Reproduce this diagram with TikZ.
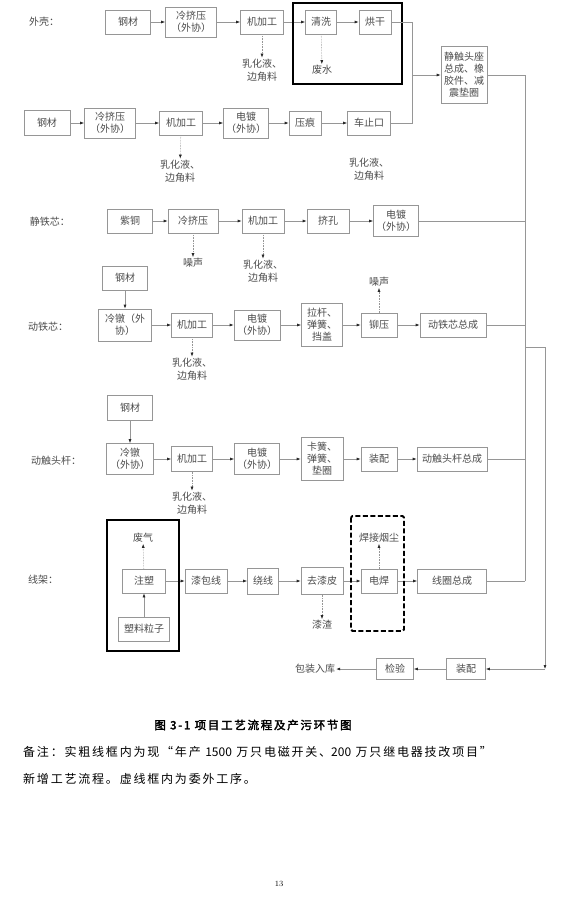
\documentclass[tikz,border=0pt]{standalone}
\usepackage{fontspec}
\newfontfamily\cjk{Noto Sans CJK SC}[AutoFakeBold=2.5]
\newfontfamily\cjknote{Noto Sans CJK SC}[LetterSpace=15,AutoFakeBold=2.5]
\definecolor{linegray}{RGB}{150,150,150}
\definecolor{textgray}{RGB}{75,75,75}
\usetikzlibrary{arrows.meta}

\begin{document}
\begin{tikzpicture}[x=1pt,y=-1pt,>={Latex[length=4pt,width=3pt,color=black!85]},
  box/.style={draw=linegray,line width=0.6pt,text=textgray,font=\cjk\fontsize{10}{12}\selectfont,align=center,inner sep=1pt,minimum height=24pt},
  note/.style={text=textgray,font=\cjk\fontsize{10}{13}\selectfont,align=center,inner sep=1pt},
  flow/.style={draw=linegray,line width=0.6pt},
  waste/.style={flow,densely dotted,->},
  newbox/.style={line width=1.8pt},
  outbox/.style={line width=1.8pt,dash pattern=on 5pt off 2.5pt}]
  \useasboundingbox (0,0) rectangle (572,906);
  %% 外壳
  \node[note] (lbA) at (44,22) {外壳：};
  \node[box,minimum width=45pt] (a1) at (128,22) {钢材};
  \node[box,minimum width=51pt,minimum height=30pt] (a2) at (191,22) {冷挤压\\（外协）};
  \node[box,minimum width=43pt] (a3) at (262,22) {机加工};
  \node[box,minimum width=31pt] (a4) at (321,22) {清洗};
  \node[box,minimum width=32pt] (a5) at (375,22) {烘干};
  \node[note] (wA1) at (262,70) {乳化液、\\边角料};
  \node[note] (wA2) at (322,70) {废水};
  \draw[flow,->] (a1) -- (a2);
  \draw[flow,->] (a2) -- (a3);
  \draw[flow,->] (a3) -- (a4);
  \draw[flow,->] (a4) -- (a5);
  \draw[waste] (a3) -- (wA1);
  \draw[waste] (a4) -- (wA2);
  \draw[newbox] (293,3) rectangle (402,84);
  %% 静触头座
  \node[box,minimum width=46pt,minimum height=57pt] (s1) at (464,75) {静触头座\\总成、橡\\胶件、减\\震垫圈};
  %% second shell line
  \node[box,minimum width=46pt,minimum height=25pt] (b1) at (47,123) {钢材};
  \node[box,minimum width=51pt,minimum height=30pt] (b2) at (110,123) {冷挤压\\（外协）};
  \node[box,minimum width=43pt] (b3) at (181,123) {机加工};
  \node[box,minimum width=45pt,minimum height=30pt] (b4) at (246,123) {电镀\\（外协）};
  \node[box,minimum width=32pt] (b5) at (305,123) {压痕};
  \node[box,minimum width=43pt] (b6) at (369,123) {车止口};
  \node[note] (wB1) at (180,171) {乳化液、\\边角料};
  \node[note] (wB2) at (369,169) {乳化液、\\边角料};
  \draw[flow,->] (b1) -- (b2);
  \draw[flow,->] (b2) -- (b3);
  \draw[flow,->] (b3) -- (b4);
  \draw[flow,->] (b4) -- (b5);
  \draw[flow,->] (b5) -- (b6);
  \draw[waste] (b3) -- (wB1);
  \coordinate (jA) at (412,75);
  \draw[flow] (a5) -| (jA);
  \draw[flow] (b6) -| (jA);
  \draw[flow,->] (jA) -- (s1);
  %% trunk
  \coordinate (tT) at (525,75);
  \coordinate (tB) at (525,581);
  \draw[flow] (s1) -- (tT) -- (tB);
  %% 静铁芯
  \node[note] (lbC) at (50,222) {静铁芯：};
  \node[box,minimum width=45pt] (c1) at (130,221) {紫铜};
  \node[box,minimum width=50pt] (c2) at (193,221) {冷挤压};
  \node[box,minimum width=42pt] (c3) at (263,221) {机加工};
  \node[box,minimum width=42pt] (c4) at (328,221) {挤孔};
  \node[box,minimum width=45pt,minimum height=31pt] (c5) at (396,221) {电镀\\（外协）};
  \node[note] (nC1) at (193,263) {噪声};
  \node[note] (wC1) at (263,271) {乳化液、\\边角料};
  \draw[flow,->] (c1) -- (c2);
  \draw[flow,->] (c2) -- (c3);
  \draw[flow,->] (c3) -- (c4);
  \draw[flow,->] (c4) -- (c5);
  \draw[waste] (c2) -- (nC1);
  \draw[waste] (c3) -- (wC1);
  \draw[flow] (c5) -- (c5 -| tT);
  %% 动铁芯
  \node[note] (lbD) at (48,327) {动铁芯：};
  \node[box,minimum width=45pt] (d0) at (125,278) {钢材};
  \node[box,minimum width=53pt,minimum height=32pt] (d1) at (125,325) {冷镦（外\\协）};
  \node[box,minimum width=41pt] (d2) at (192,325) {机加工};
  \node[box,minimum width=46pt,minimum height=30pt] (d3) at (257,325) {电镀\\（外协）};
  \node[box,minimum width=41pt,minimum height=43pt] (d4) at (322,325) {拉杆、\\弹簧、\\挡盖};
  \node[box,minimum width=36pt] (d5) at (379,325) {铆压};
  \node[box,minimum width=66pt] (d6) at (453,325) {动铁芯总成};
  \node[note] (wD1) at (192,369) {乳化液、\\边角料};
  \node[note] (nD1) at (379,282) {噪声};
  \draw[flow,->] (d0) -- (d1);
  \draw[flow,->] (d1) -- (d2);
  \draw[flow,->] (d2) -- (d3);
  \draw[flow,->] (d3) -- (d4);
  \draw[flow,->] (d4) -- (d5);
  \draw[flow,->] (d5) -- (d6);
  \draw[waste] (d2) -- (wD1);
  \draw[waste] (d5) -- (nD1);
  \draw[flow] (d6) -- (d6 -| tT);
  %% branch to final assembly
  \coordinate (jB) at (525,347);
  \coordinate (jC) at (545,669);
  \draw[flow,->] (jB) -| (jC);
  %% 动触头杆
  \node[note] (lbE) at (56,461) {动触头杆：};
  \node[box,minimum width=45pt,minimum height=25pt] (e0) at (130,408) {钢材};
  \node[box,minimum width=47pt,minimum height=31pt] (e1) at (130,459) {冷镦\\（外协）};
  \node[box,minimum width=41pt,minimum height=25pt] (e2) at (192,459) {机加工};
  \node[box,minimum width=45pt,minimum height=31pt] (e3) at (257,459) {电镀\\（外协）};
  \node[box,minimum width=42pt,minimum height=43pt] (e4) at (322,459) {卡簧、\\弹簧、\\垫圈};
  \node[box,minimum width=36pt] (e5) at (379,459) {装配};
  \node[box,minimum width=70pt] (e6) at (452,459) {动触头杆总成};
  \node[note] (wE1) at (192,503) {乳化液、\\边角料};
  \draw[flow,->] (e0) -- (e1);
  \draw[flow,->] (e1) -- (e2);
  \draw[flow,->] (e2) -- (e3);
  \draw[flow,->] (e3) -- (e4);
  \draw[flow,->] (e4) -- (e5);
  \draw[flow,->] (e5) -- (e6);
  \draw[waste] (e2) -- (wE1);
  \draw[flow] (e6) -- (e6 -| tT);
  %% 线架
  \node[note] (lbF) at (43,580) {线架：};
  \node[box,minimum width=43pt] (g1) at (144,581) {注塑};
  \node[box,minimum width=51pt] (g0) at (144,629) {塑料粒子};
  \node[box,minimum width=42pt] (g2) at (206,581) {漆包线};
  \node[box,minimum width=31pt,minimum height=26pt] (g3) at (263,581) {绕线};
  \node[box,minimum width=42pt,minimum height=27pt] (g4) at (322,581) {去漆皮};
  \node[box,minimum width=36pt] (g5) at (379,581) {电焊};
  \node[box,minimum width=69pt] (g6) at (452,581) {线圈总成};
  \node[note] (nG1) at (143,538) {废气};
  \node[note] (nG2) at (322,625) {漆渣};
  \node[note] (nG3) at (379,538) {焊接烟尘};
  \draw[flow,->] (g0) -- (g1);
  \draw[flow,->] (g1) -- (g2);
  \draw[flow,->] (g2) -- (g3);
  \draw[flow,->] (g3) -- (g4);
  \draw[flow,->] (g4) -- (g5);
  \draw[flow,->] (g5) -- (g6);
  \draw[waste] (g1) -- (nG1);
  \draw[waste] (g4) -- (nG2);
  \draw[waste] (g5) -- (nG3);
  \draw[flow] (g6) -- (tB);
  \draw[newbox] (107,520) rectangle (179,651);
  \draw[outbox,rounded corners=1.5pt] (351,516) rectangle (404,631);
  %% 装配、检验、入库
  \node[box,minimum width=39pt,minimum height=21pt] (h1) at (466,669) {装配};
  \node[box,minimum width=37pt,minimum height=21pt] (h2) at (395,669) {检验};
  \node[note] (h3) at (315,669) {包装入库};
  \draw[flow,->] (jC) -- (h1);
  \draw[flow,->] (h1) -- (h2);
  \draw[flow,->] (h2) -- (h3);
  %% caption and remark
  \node[font=\cjknote\fontsize{11.5}{14}\selectfont\bfseries] (cap) at (253,725) {图 3-1 项目工艺流程及产污环节图};
  \node[anchor=west,inner sep=0pt,font=\cjknote\fontsize{12}{14}\selectfont] (rm1) at (23,752) {备注：实粗线框内为现“年产 {\cjk 1500} 万只电磁开关、{\cjk 200} 万只继电器技改项目”};
  \node[anchor=west,inner sep=0pt,font=\cjknote\fontsize{12}{14}\selectfont] (rm2) at (23,779) {新增工艺流程。虚线框内为委外工序。};
  \node[font=\fontsize{8}{9}\selectfont] (pg) at (279,884) {13};
\end{tikzpicture}
\end{document}
